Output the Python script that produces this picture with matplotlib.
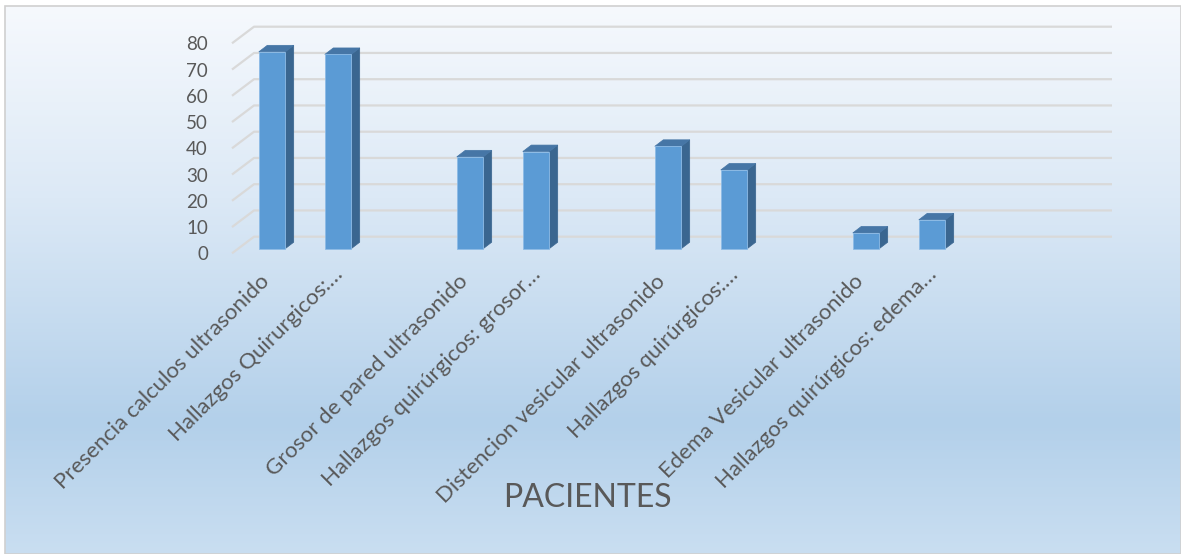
import numpy as np
import matplotlib
matplotlib.use("Agg")
import matplotlib.pyplot as plt
from matplotlib.patches import Polygon, Rectangle
from matplotlib.colors import LinearSegmentedColormap
import matplotlib.transforms as mtrans

# ---- data ----
categories = [
    "Presencia calculos ultrasonido",
    "Hallazgos Quirurgicos:…",
    "",
    "Grosor de pared ultrasonido",
    "Hallazgos quirúrgicos: grosor…",
    "",
    "Distencion vesicular ultrasonido",
    "Hallazgos quirúrgicos:…",
    "",
    "Edema Vesicular ultrasonido",
    "Hallazgos quirúrgicos: edema…",
    "",
    "",
]
values = [75, 74, None, 35, 37, None, 39, 30, None, 6, 11, None, None]
yticks = [0, 10, 20, 30, 40, 50, 60, 70, 80]
axis_title = "PACIENTES"

plt.rcParams['font.family'] = ['Lato', 'DejaVu Sans']
TXT = '#595959'

W, H = 1181, 554
fig = plt.figure(figsize=(W / 100, H / 100), dpi=100)
fig.patch.set_facecolor('white')

# ---- background gradient ----
bg = fig.add_axes([5 / W, 0, 1 - 5 / W, (H - 6) / H])
bg.set_axis_off()
cmap = LinearSegmentedColormap.from_list(
    'bg', [(0.0, '#f6f9fd'), (0.35, '#dce9f6'), (0.76, '#b3d0ea'), (1.0, '#c9def1')])
grad = np.linspace(0, 1, 256).reshape(-1, 1)
bg.imshow(grad, aspect='auto', cmap=cmap, extent=[0, 1, 1, 0])
bg.set_xlim(0, 1)
bg.set_ylim(1, 0)
fig.add_artist(Rectangle((5 / W, 0), 1 - 5 / W, (H - 6) / H, transform=fig.transFigure,
                         fill=False, edgecolor='#d0d0d0', lw=1.2))

# ---- main axes (pseudo 3D) ----
ax = fig.add_axes([0, 0, 1, 1])
ax.patch.set_alpha(0)
ax.set_axis_off()
px_per_cat = 66.0
px_per_val = 2.625
ax.set_xlim((0 - 272) / px_per_cat, (W - 272) / px_per_cat)
ax.set_ylim(-(H - 248.7) / px_per_val, 248.7 / px_per_val)

n = len(categories)
x = np.arange(n)
# depth offsets
dxb, dyb = 15 / px_per_cat, 12 / px_per_val      # back wall
dxf, dyf = -7 / px_per_cat, -4.6 / px_per_val    # front edge
bdx, bdy = 8.5 / px_per_cat, 6.5 / px_per_val    # bar depth
left, right = -0.5, n - 0.5

grid_c = '#d9d9d9'
for v in yticks:
    ax.plot([left + dxf, left + dxb, right + dxb], [v + dyf, v + dyb, v + dyb],
            color=grid_c, lw=1.6, solid_capstyle='butt', zorder=1)
    ax.text(left - 0.47, v + dyf - 0.6, str(v), ha='right', va='center',
            fontsize=13.5, color=TXT)

# bars
bw = 0.40
bx = [xi for xi, v in zip(x, values) if v is not None]
bv = [v for v in values if v is not None]
ax.bar(bx, bv, width=bw, color='#5b9bd5', edgecolor='#8dbbe6', linewidth=0.6, zorder=3)
for xi, v in zip(bx, bv):
    r = xi + bw / 2
    l = xi - bw / 2
    side = Polygon([(r, 0), (r + bdx, bdy), (r + bdx, v + bdy), (r, v)],
                   closed=True, facecolor='#3a6690', edgecolor='#3a6690', lw=0.5, zorder=2)
    top = Polygon([(l, v), (l + bdx, v + bdy), (r + bdx, v + bdy), (r, v)],
                  closed=True, facecolor='#4676a6', edgecolor='#4676a6', lw=0.5, zorder=2)
    ax.add_patch(side)
    ax.add_patch(top)

# category labels
for xi, lab in zip(x, categories):
    if lab:
        tr = ax.transData
        if lab.endswith('…'):
            tr = tr + mtrans.ScaledTranslation(0.07, 0.07, fig.dpi_scale_trans)
        ax.text(xi - 0.02, -13.0, lab, rotation=45, rotation_mode='anchor',
                ha='right', va='baseline', fontsize=16, color=TXT, transform=tr)

fig.text(587 / W, (H - 507) / H, axis_title, ha='center', va='baseline',
         fontsize=23, color=TXT)

fig.savefig('out.png', dpi=100)
